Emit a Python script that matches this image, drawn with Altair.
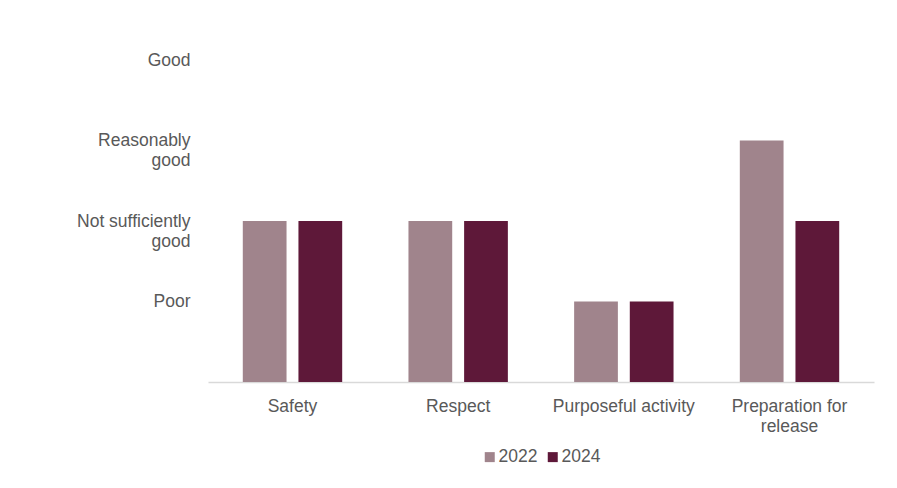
import altair as alt
import pandas as pd

categories = ["Safety", "Respect", "Purposeful activity", "Preparation for release"]
years = ["2022", "2024"]
values_2022 = [2, 2, 1, 3]
values_2024 = [2, 2, 1, 2]
colors = ["#A0848C", "#5E1839"]

rows = []
for c, a, b in zip(categories, values_2022, values_2024):
    rows.append({"category": c, "year": "2022", "value": a})
    rows.append({"category": c, "year": "2024", "value": b})
df = pd.DataFrame(rows)

y_label_expr = (
    "datum.value == 1 ? 'Poor' : datum.value == 2 ? ['Not sufficiently', 'good'] : "
    "datum.value == 3 ? ['Reasonably', 'good'] : datum.value == 4 ? 'Good' : ''"
)
x_label_expr = (
    "datum.value == 'Preparation for release' ? ['Preparation for', 'release'] : datum.value"
)

FONT = "Liberation Sans"
FS = 17.5
GREY = "#595959"

chart = alt.Chart(df).mark_bar().encode(
    x=alt.X(
        "category:N",
        sort=categories,
        title=None,
        scale=alt.Scale(paddingInner=0.4, paddingOuter=0.21),
        axis=alt.Axis(
            labelAngle=0, ticks=False, domainColor="#D9D9D9", domainWidth=1.5,
            labelFont=FONT, labelFontSize=FS, labelColor=GREY,
            labelExpr=x_label_expr, labelPadding=15, labelLineHeight=20,
        ),
    ),
    xOffset=alt.XOffset("year:N", sort=years, scale=alt.Scale(paddingInner=0.214, paddingOuter=0)),
    y=alt.Y(
        "value:Q",
        title=None,
        scale=alt.Scale(domain=[0, 4], nice=False),
        axis=alt.Axis(
            values=[1, 2, 3, 4], grid=False, domain=False, ticks=False,
            labelFont=FONT, labelFontSize=FS, labelColor=GREY,
            labelExpr=y_label_expr, labelPadding=18, labelLineHeight=20,
        ),
    ),
    color=alt.Color(
        "year:N",
        sort=years,
        scale=alt.Scale(domain=years, range=colors),
        legend=alt.Legend(
            title=None, orient="none", legendX=273, legendY=388, direction="horizontal",
            symbolType="square", symbolSize=100, symbolStrokeWidth=0,
            labelFont=FONT, labelFontSize=FS, labelColor=GREY,
            columnPadding=6, labelOffset=0,
        ),
    ),
).properties(
    width=666,
    height=322,
    autosize=alt.AutoSizeParams(type="none"),
    padding={"left": 200, "top": 52, "right": 15, "bottom": 100},
).configure_view(stroke=None)

chart.save("out.html", embed_options={"renderer": "svg", "actions": False})
